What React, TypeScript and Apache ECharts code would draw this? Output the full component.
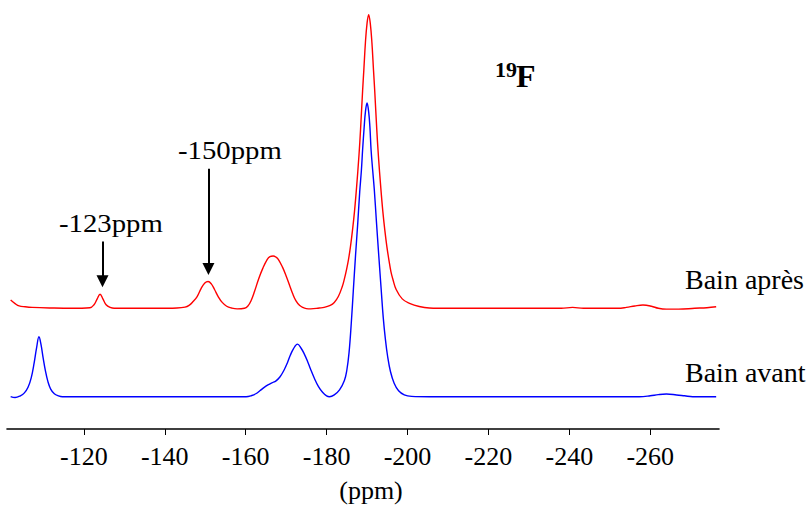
import React, { useEffect, useRef } from "react";
import * as echarts from "echarts";

// ---- data (ppm, relative intensity; main peak = 100) ----
const redPpm = [
  -101.9, -103.0, -104.0, -105.5, -107.2, -112, -117, -121.5, -122.5, -123.3, -124.0, -124.7, -125.5, -126.5, -127.5,
  -132, -138, -143, -145.0, -146.0, -147.0, -148.0, -149.0, -149.9, -150.7, -151.5, -152.3, -153.2, -154.2, -155.3, -156.5, -157.9,
  -159.7, -160.5, -161.3, -162.2, -163.2, -164.2, -165.3, -166.0, -166.8, -167.5, -168.1, -169.1, -170.0, -170.8, -171.6, -172.4, -173.3, -174.1, -175.0, -176.1,
  -178.2, -179.4, -180.9, -181.9, -182.9, -183.9, -184.4, -184.9, -185.4, -185.9, -186.4, -186.9, -187.4, -188.0, -188.4, -188.9, -189.2, -189.6, -190.0,
  -190.4, -190.8, -191.2, -191.6, -191.9, -192.4, -192.8, -193.4, -193.9, -194.4, -194.9, -195.4, -195.9, -196.4, -197.2, -198.7, -200.5, -202.9, -205.4,
  -210, -220, -230, -238, -240.8, -243.5, -252, -254.1, -256.2, -258.2, -260.3, -262, -264, -267, -271, -274, -276.3,
];
const redInt = [
  2.8, 1.6, 0.8, 0.5, 0.3, 0.1, 0, 0.2, 1.2, 3.2, 4.8, 3.2, 1.2, 0.3, 0,
  0, 0, 0.1, 0.4, 1.0, 2.3, 4.0, 6.8, 8.6, 9.1, 8.3, 6.4, 4.0, 2.0, 0.7, 0.1, -0.2,
  0, 0.7, 2.5, 5.8, 10, 13.5, 16.6, 17.6, 17.8, 17.4, 16.6, 14, 11, 8, 5, 2.6, 1.0, 0.3, -0.1, -0.2,
  0.1, 0.3, 1, 2, 4, 7.5, 10, 13, 16.5, 21, 26.5, 33, 41, 52, 61, 74, 81, 90.5, 97,
  100, 97, 90.5, 81, 74, 61, 52, 41, 33, 26.5, 21, 16.5, 12.5, 9.8, 6.4, 3.2, 1.7, 0.6, 0.1,
  0, 0, 0, 0, 0.3, 0, 0, 0.3, 0.8, 1.1, 0.7, 0, -0.3, -0.3, 0, 0.2, 0.5,
];

const bluePpm = [
  -101.9, -103.0, -104.3, -105.3, -106.2, -107.0, -107.7, -108.3, -108.9, -109.4, -109.9, -110.5, -111.1, -111.8, -112.7, -113.7, -114.7,
  -125, -140, -150, -160.1, -161.5, -162.5, -163.5, -164.5, -165.5, -166.5, -167.5, -168.5, -169.5, -170.3, -171.0, -171.8, -172.8,
  -173.7, -174.5, -175.3, -176.0, -177.0, -178.0, -179.0, -180.0, -180.7, -181.9, -183.2, -184.4, -185.0, -185.55, -186.1, -186.6,
  -187.15, -187.7, -188.2, -188.6, -188.9, -189.3, -189.6, -190.0, -190.4, -190.7, -191.0, -191.4, -191.8, -192.3, -192.9, -193.5,
  -194.0, -194.5, -195.1, -195.8, -196.7, -197.8, -199.2, -201, -205.4, -230, -257.3, -260.0, -262.0, -264.0, -266.5, -268.5, -270.5, -276.3,
];
const blueInt = [
  0, -0.3, 0.3, 1.3, 3.2, 6.5, 11.4, 16.5, 20.4, 17.8, 13.5, 8.8, 5.2, 2.6, 1.0, 0.3, 0,
  0, 0, 0, 0, 0.4, 1.0, 2.0, 3.1, 4.0, 4.7, 5.4, 6.8, 9.1, 11.5, 14, 16.3, 17.9,
  16.5, 14.5, 12, 9.5, 6.2, 3.4, 1.5, 0.3, 0, 0.6, 2.3, 5.5, 9, 15, 25, 36,
  48, 59, 70, 77, 84, 92, 97, 100, 97, 92, 84, 77, 70.4, 60, 48, 36.4,
  27, 20, 13.6, 8.5, 4.6, 2.0, 0.6, 0.1, 0, 0, 0, 0.3, 0.7, 0.9, 0.6, 0.3, 0, 0,
];

const tickValues = [-120, -140, -160, -180, -200, -220, -240, -260];
const seriesNames = ["Bain après", "Bain avant"];

// vertical stacking offsets of the two spectra (intensity units)
const RED_OFFSET = 41.1;
const BLUE_OFFSET = 11.0;

// annotated peaks: ppm of arrow, arrow top, arrow end (intensity units)
const arrowPpm = [-124.6, -150.8];
const arrowTop = [63.8, 88.6];
const arrowEnd = [50.3, 54.5];
const arrowLabels = ["-123ppm", "-150ppm"];

const SERIF = "Liberation Serif";

function txt(text: string, x: number, y: number, size: number, opts: any = {}) {
  return {
    type: "text",
    x,
    y,
    scaleX: opts.scaleX ?? 1,
    style: {
      text,
      fontFamily: SERIF,
      fontSize: size,
      fontWeight: opts.bold ? "bold" : "normal",
      fill: "#000",
      verticalAlign: "middle",
      align: opts.align ?? "left",
    },
  };
}

export default function App() {
  const ref = useRef<HTMLDivElement>(null);
  useEffect(() => {
    document.body.style.margin = "0";
    const chart = echarts.init(ref.current!, null, { renderer: "svg" });
    const red = redPpm.map((p, i) => [p, redInt[i] + RED_OFFSET]);
    const blue = bluePpm.map((p, i) => [p, blueInt[i] + BLUE_OFFSET]);
    chart.setOption({
      animation: false,
      backgroundColor: "#ffffff",
      grid: { left: 7, right: 92, top: 9, bottom: 78, containLabel: false, outerBoundsMode: "none" },
      xAxis: {
        type: "value",
        inverse: true,
        min: -277,
        max: -101,
        axisLine: { show: true, lineStyle: { color: "#000", width: 1.6 } },
        axisTick: { show: true, length: 6, inside: false, customValues: tickValues, lineStyle: { color: "#000", width: 1 } },
        axisLabel: {
          show: true,
          customValues: tickValues,
          margin: 14,
          fontSize: 26,
          fontFamily: SERIF,
          color: "#000",
          formatter: (v: number) => String(v),
        },
        splitLine: { show: false },
      },
      yAxis: { type: "value", min: 0, max: 143, show: false, splitLine: { show: false } },
      series: [
        {
          name: seriesNames[0],
          type: "line",
          data: red,
          showSymbol: false,
          symbol: "none",
          smooth: 0.4,
          clip: false,
          lineStyle: { color: "#ff0000", width: 1.4 },
          markLine: {
            silent: true,
            symbol: ["none", "triangle"],
            symbolSize: 12,
            label: { show: false },
            lineStyle: { color: "#000", width: 2, type: "solid" },
            emphasis: { disabled: true },
            data: arrowPpm.map((p, i) => [
              { coord: [p, arrowTop[i]] },
              { coord: [p, arrowEnd[i]] },
            ]),
          },
        },
        {
          name: seriesNames[1],
          type: "line",
          data: blue,
          showSymbol: false,
          symbol: "none",
          smooth: 0.4,
          clip: false,
          lineStyle: { color: "#0000ff", width: 1.4 },
        },
      ],
      graphic: [
        txt(arrowLabels[0], 59, 223.3, 25, { scaleX: 1.15 }),
        txt(arrowLabels[1], 178, 150.9, 25, { scaleX: 1.15 }),
        txt(seriesNames[0], 685, 279.5, 28),
        txt(seriesNames[1], 685, 372.2, 28),
        txt("19", 495, 69.6, 22, { bold: true }),
        txt("F", 516, 75.9, 32, { bold: true }),
        txt("(ppm)", 371, 490.2, 26, { align: "center" }),
      ],
    });
    return () => chart.dispose();
  }, []);
  return <div ref={ref} style={{ width: 811, height: 507, position: "fixed", left: 0, top: 0 }} />;
}
